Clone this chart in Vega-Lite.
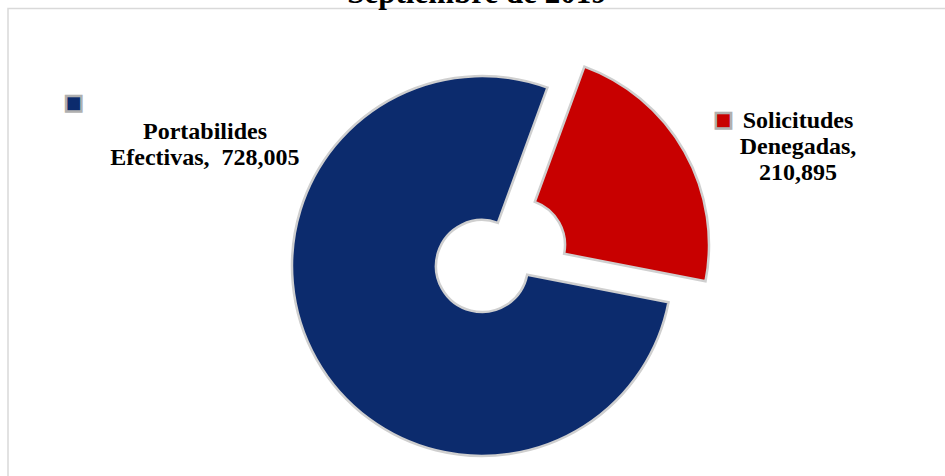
{
  "$schema": "https://vega.github.io/schema/vega-lite/v6.json",
  "autosize": {"type": "none"},
  "padding": {"left": 8, "top": 8.5, "right": 0, "bottom": 0},
  "width": 948,
  "height": 515,
  "background": "white",
  "view": {"stroke": "#d9d9d9", "strokeWidth": 1.5},
  "title": {
    "text": "Septiembre de 2019",
    "font": "Liberation Serif",
    "fontSize": 31,
    "fontWeight": "bold",
    "color": "#000000",
    "anchor": "middle",
    "offset": 0,
    "baseline": "alphabetic",
    "dy": 25.5,
    "dx": -5
  },
  "data": {
    "values": [
      {"categoria": "Portabilides Efectivas", "valor": 728005},
      {"categoria": "Solicitudes Denegadas", "valor": 210895}
    ]
  },
  "transform": [
    {
      "calculate": "datum.categoria === 'Solicitudes Denegadas' ? 'Solicitudes\\nDenegadas,\\n' + format(datum.valor, ',') : 'Portabilides\\nEfectivas,\u00a0 ' + format(datum.valor, ',')",
      "as": "etiqueta"
    }
  ],
  "layer": [
    {
      "mark": {
        "type": "arc",
        "outerRadius": 190,
        "innerRadius": 46,
        "stroke": "#cfcfcf",
        "strokeWidth": 2.5,
        "xOffset": {"expr": "datum.categoria === 'Solicitudes Denegadas' ? 37 : 0"},
        "yOffset": {"expr": "datum.categoria === 'Solicitudes Denegadas' ? -21 : 0"}
      },
      "encoding": {
        "theta": {"field": "valor", "type": "quantitative", "stack": true, "scale": {"range": [1.7628, 8.046]}},
        "color": {
          "field": "categoria",
          "type": "nominal",
          "scale": {"domain": ["Portabilides Efectivas", "Solicitudes Denegadas"], "range": ["#0c2b6d", "#c80000"]},
          "legend": null
        }
      }
    },
    {
      "mark": {
        "type": "text",
        "font": "Liberation Serif",
        "fontSize": 24,
        "fontWeight": "bold",
        "lineHeight": 26,
        "lineBreak": "\n",
        "align": "center",
        "baseline": "middle",
        "fill": "#000000"
      },
      "encoding": {
        "theta": {"field": "valor", "type": "quantitative", "stack": true, "scale": {"range": [3.4095, 7.9317]}},
        "radius": {"field": "valor", "type": "quantitative", "scale": {"type": "linear", "zero": false, "nice": false, "range": [347.7, 307.7]}},
        "detail": {"field": "categoria", "type": "nominal"},
        "text": {"field": "etiqueta", "type": "nominal"}
      }
    },
    {
      "mark": {
        "type": "text",
        "font": "DejaVu Sans",
        "fontSize": 20,
        "align": "center",
        "baseline": "middle",
        "stroke": "#b0b0b0",
        "strokeWidth": 2.5,
        "text": "■"
      },
      "encoding": {
        "theta": {"field": "valor", "type": "quantitative", "stack": true, "scale": {"range": [3.372, 7.807]}},
        "radius": {"field": "valor", "type": "quantitative", "scale": {"type": "linear", "zero": false, "nice": false, "range": [282.5, 439.6]}},
        "color": {"field": "categoria", "type": "nominal", "legend": null}
      }
    }
  ],
  "resolve": {"scale": {"theta": "independent", "radius": "independent"}}
}
